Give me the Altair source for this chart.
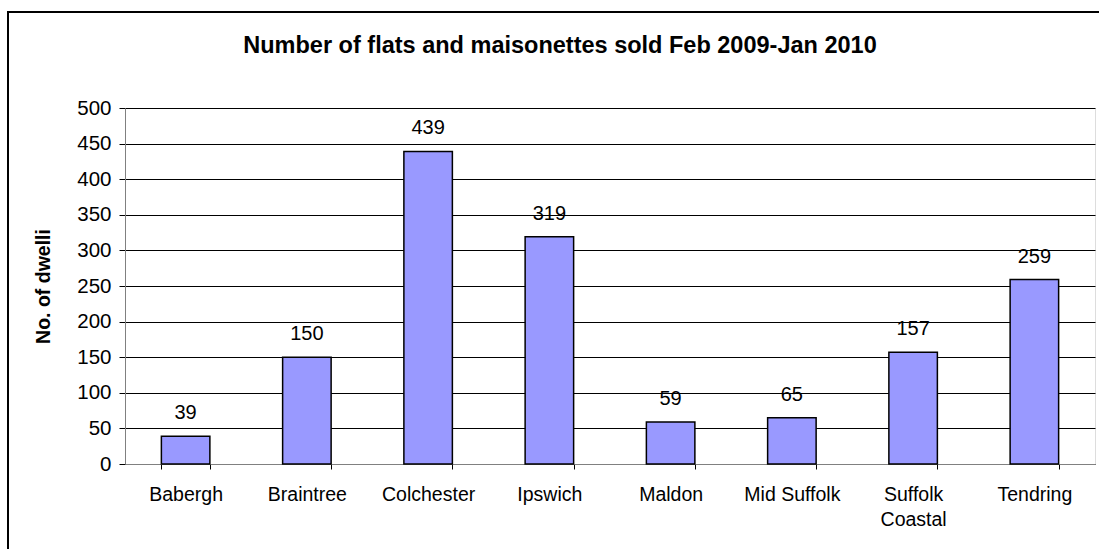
import altair as alt
import pandas as pd

districts = ["Babergh", "Braintree", "Colchester", "Ipswich", "Maldon",
             "Mid Suffolk", "Suffolk Coastal", "Tendring"]
sold = [39, 150, 439, 319, 59, 65, 157, 259]
y_ticks = [0, 50, 100, 150, 200, 250, 300, 350, 400, 450, 500]

df = pd.DataFrame({"district": districts, "sold": sold})

FONT = "Liberation Sans"

x = alt.X(
    "district:N",
    sort=districts,
    title=None,
    scale=alt.Scale(paddingInner=0.6, paddingOuter=0.3),
    axis=alt.Axis(
        labelAngle=0,
        labelFontSize=19.5,
        labelFont=FONT,
        labelColor="#000000",
        labelPadding=16,
        labelLineHeight=25,
        labelExpr="datum.label == 'Suffolk Coastal' ? ['Suffolk', 'Coastal'] : datum.label",
        tickBand="extent",
        tickSize=5,
        tickColor="#000000",
        domainColor="#808080",
        grid=False,
    ),
)
y = alt.Y(
    "sold:Q",
    title="No. of dwelli",
    scale=alt.Scale(domain=[0, 500], nice=False),
    axis=alt.Axis(
        values=y_ticks,
        labelFontSize=20.5,
        labelFont=FONT,
        labelColor="#000000",
        labelPadding=8,
        tickSize=6,
        tickColor="#000000",
        domainColor="#808080",
        gridColor="#000000",
        gridWidth=1,
        titleFont=FONT,
        titleFontSize=19.5,
        titleFontWeight="bold",
        titleColor="#000000",
        titlePadding=23,
    ),
)

bars = alt.Chart(df).mark_bar(
    color="#9999ff", stroke="#000000", strokeWidth=1.5
).encode(x=x, y=y)

labels = alt.Chart(df).mark_text(
    baseline="bottom", dy=-13, fontSize=20, font=FONT, color="#000000"
).encode(x=x, y=y, text="sold:Q")

# outer frame around the whole chart
frame = alt.Chart(df).mark_rect(
    fill=None, stroke="#000000", strokeWidth=2, clip=False
).encode(
    x=alt.value(-117), y=alt.value(-96), x2=alt.value(1010), y2=alt.value(500)
)

chart = (
    alt.layer(bars, labels, frame)
    .properties(
        width=970,
        height=356,
        padding={"left": 125, "top": 108, "right": 4, "bottom": 85},
        autosize=alt.AutoSizeParams(type="none"),
        title=alt.TitleParams(
            "Number of flats and maisonettes sold Feb 2009-Jan 2010",
            font=FONT,
            fontSize=23.5,
            fontWeight="bold",
            color="#000000",
            anchor="middle",
            baseline="alphabetic",
            dx=-50,
            offset=-65,
        ),
    )
    .configure_view(fill="#c0c0c0", stroke="#808080", strokeWidth=1.5)
    .configure(background="#ffffff")
)

chart.save("out.html", embed_options={"renderer": "svg", "actions": False})
